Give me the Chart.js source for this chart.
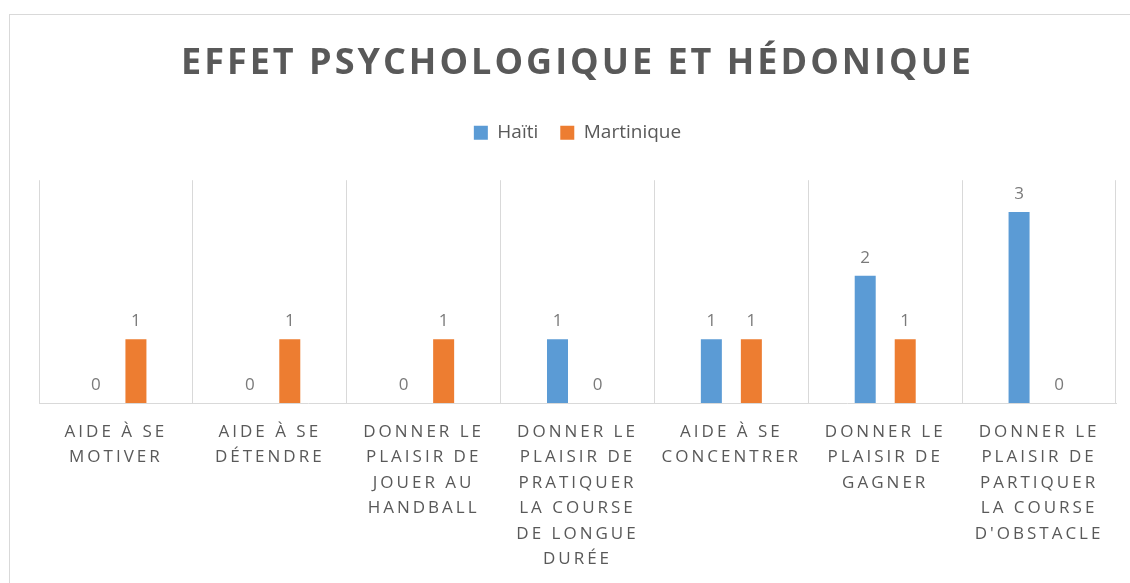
<!DOCTYPE html>
<html>
<head>
<meta charset="utf-8">
<script src="https://cdn.jsdelivr.net/npm/chart.js@4/dist/chart.umd.min.js"></script>
<style>
  html, body { margin: 0; padding: 0; background: #fff; overflow: hidden; }
  #cadre { position: absolute; left: 9px; top: 14px; width: 1300px; height: 800px; border: 1px solid #d9d9d9; }
  #zone { position: absolute; left: 0; top: 0; width: 1130px; height: 583px; }
</style>
</head>
<body>
<div id="cadre"></div>
<div id="zone"><canvas id="graphique"></canvas></div>
<script>
// Catégories (étiquettes de l'axe X, déjà coupées en lignes)
const categories = [
    ["AIDE À SE", "MOTIVER"],
    ["AIDE À SE", "DÉTENDRE"],
    ["DONNER LE", "PLAISIR DE", "JOUER AU", "HANDBALL"],
    ["DONNER LE", "PLAISIR DE", "PRATIQUER", "LA COURSE", "DE LONGUE", "DURÉE"],
    ["AIDE À SE", "CONCENTRER"],
    ["DONNER LE", "PLAISIR DE", "GAGNER"],
    ["DONNER LE", "PLAISIR DE", "PARTIQUER", "LA COURSE", "D'OBSTACLE"]
];

// Valeurs des séries
const valeursHaiti = [0, 0, 0, 1, 1, 2, 3];
const valeursMartinique = [1, 1, 1, 0, 1, 1, 0];

const gris = "#595959";

// Espacement des lettres pour le titre et les étiquettes de l'axe
const espacement = {
    id: 'espacement',
    beforeDraw(chart) {
        const titre = chart.titleBlock;
        if (titre && !titre._espace) {
            const dessin = titre.draw;
            titre.draw = function (...args) {
                const ctx = this.ctx;
                ctx.save();
                ctx.letterSpacing = "3px";
                dessin.apply(this, args);
                ctx.restore();
            };
            titre._espace = true;
        }
        const axeX = chart.scales.x;
        if (axeX && !axeX._espace) {
            const dessinLabels = axeX.drawLabels;
            axeX.drawLabels = function (...args) {
                const ctx = this.ctx;
                ctx.save();
                ctx.letterSpacing = "3px";
                dessinLabels.apply(this, args);
                ctx.restore();
            };
            axeX._espace = true;
        }
    }
};

// Étiquettes de valeurs au-dessus des barres
const etiquettes = {
    id: 'etiquettes',
    afterDatasetsDraw(chart) {
        const ctx = chart.ctx;
        ctx.save();
        ctx.font = "17px 'Open Sans'";
        ctx.fillStyle = "#7a7a7a";
        ctx.textAlign = "center";
        ctx.textBaseline = "alphabetic";
        chart.data.datasets.forEach((ds, i) => {
            chart.getDatasetMeta(i).data.forEach((barre, j) => {
                ctx.fillText(String(ds.data[j]), barre.x, barre.y - 13);
            });
        });
        ctx.restore();
    }
};

// Espace supplémentaire sous la légende
const espaceLegende = {
    id: 'espaceLegende',
    beforeInit(chart) {
        const ajuster = chart.legend.fit;
        chart.legend.fit = function () {
            ajuster.call(this);
            this.height += 28;
        };
    }
};

const ctx = document.getElementById('graphique').getContext('2d');

new Chart(ctx, {
    type: 'bar',
    data: {
        labels: categories,
        datasets: [
            { label: "Haïti", data: valeursHaiti, backgroundColor: "#5B9BD5" },
            { label: "Martinique", data: valeursMartinique, backgroundColor: "#ED7D31" }
        ]
    },
    options: {
        responsive: true,
        maintainAspectRatio: false,
        animation: false,
        categoryPercentage: 0.52,
        barPercentage: 0.525,
        layout: { padding: { left: 39, right: 14, top: 0, bottom: -5 } },
        scales: {
            x: {
                grid: { color: "#d9d9d9", drawTicks: false, offset: true },
                border: { color: "#d9d9d9" },
                ticks: {
                    color: gris,
                    font: { family: "'Open Sans'", size: 17, lineHeight: 1.5 },
                    padding: 16,
                    maxRotation: 0,
                    autoSkip: false
                }
            },
            y: {
                display: false,
                min: 0,
                max: 3.5
            }
        },
        plugins: {
            title: {
                display: true,
                text: "EFFET PSYCHOLOGIQUE ET HÉDONIQUE",
                color: gris,
                font: { family: "'Open Sans'", size: 36, weight: 'bold', lineHeight: 1.2 },
                padding: { top: 42, bottom: 16 }
            },
            legend: {
                labels: {
                    color: gris,
                    boxWidth: 14,
                    boxHeight: 14,
                    padding: 22,
                    font: { family: "'Open Sans'", size: 19 }
                }
            },
            tooltip: { enabled: false }
        }
    },
    plugins: [espacement, etiquettes, espaceLegende]
});
</script>
</body>
</html>
